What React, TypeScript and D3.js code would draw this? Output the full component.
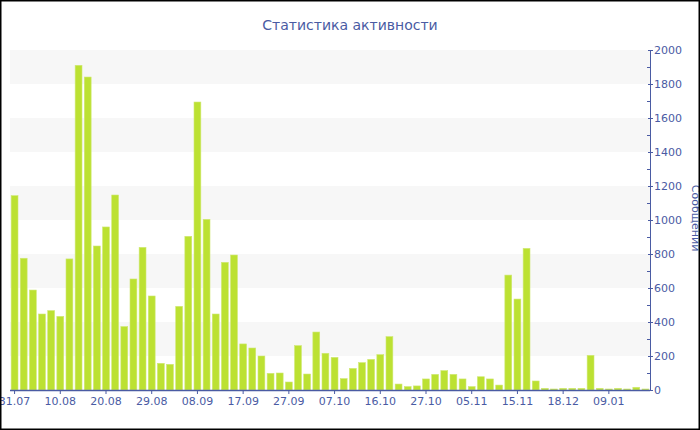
import React from "react";
import * as d3 from "d3";

const dates: string[] = [
  "31.07", "02.08", "04.08", "06.08", "08.08",
  "10.08", "12.08", "14.08", "16.08", "18.08",
  "20.08", "22.08", "24.08", "26.08", "27.08",
  "29.08", "31.08", "02.09", "04.09", "06.09",
  "08.09", "10.09", "12.09", "14.09", "15.09",
  "17.09", "19.09", "21.09", "23.09", "25.09",
  "27.09", "29.09", "01.10", "03.10", "05.10",
  "07.10", "09.10", "11.10", "13.10", "14.10",
  "16.10", "18.10", "20.10", "23.10", "25.10",
  "27.10", "29.10", "31.10", "02.11", "03.11",
  "05.11", "07.11", "09.11", "11.11", "13.11",
  "15.11", "17.11", "22.11", "29.11", "06.12",
  "18.12", "21.12", "25.12", "29.12", "03.01",
  "09.01", "13.01", "17.01", "21.01", "25.01",
];

const messages: number[] = [
  1143, 775, 588, 447, 467, 433, 771, 1910, 1841, 847,
  959, 1147, 373, 653, 839, 553, 157, 151, 492, 904,
  1694, 1004, 447, 751, 794, 271, 247, 200, 98, 100,
  47, 261, 94, 341, 216, 192, 67, 127, 161, 180,
  208, 314, 35, 20, 24, 65, 92, 114, 92, 65,
  20, 78, 65, 29, 676, 535, 833, 53, 10, 6,
  10, 10, 10, 204, 10, 6, 10, 6, 16, 6,
];

const yMajorTicks: number[] = [0, 200, 400, 600, 800, 1000, 1200, 1400, 1600, 1800, 2000];
const yMinorTicks: number[] = [100, 300, 500, 700, 900, 1100, 1300, 1500, 1700, 1900];
const bandStarts: number[] = [200, 600, 1000, 1400, 1800];

const title = "Статистика активности";
const yTitle = "Сообщений";

const W = 700;
const H = 430;
const left = 10;
const right = 650;
const top = 50;
const bottom = 390;
const axisColor = "#4a5ba3";
const font = "DejaVu Sans, Verdana, sans-serif";

export default function App() {
  const x = d3.scaleBand<string>().domain(dates).range([left, right]).paddingInner(0.25).paddingOuter(0.125);
  const y = d3.scaleLinear().domain([0, 2000]).range([bottom, top]);
  const xTickIdx = dates.map((_, i) => i).filter((i) => i % 5 === 0);

  return (
    <svg width={W} height={H} style={{ position: "absolute", left: 0, top: 0, background: "#fff" }}>
      <rect x={0} y={0} width={W} height={H} fill="#fff" />
      {bandStarts.map((b) => (
        <rect key={b} x={left} y={y(b + 200)} width={right - left} height={y(b) - y(b + 200)} fill="#f7f7f7" />
      ))}
      {messages.map((v, i) => (
        <rect
          key={i}
          x={x(dates[i])!}
          y={y(v)}
          width={x.bandwidth()}
          height={bottom - y(v)}
          fill="#bce132"
          stroke="#cfe873"
          strokeWidth={0.6}
        />
      ))}
      <line x1={left} x2={right} y1={bottom + 0.5} y2={bottom + 0.5} stroke={axisColor} strokeWidth={1.5} />
      {xTickIdx.map((i) => {
        const cx = x(dates[i])! + x.bandwidth() / 2;
        return (
          <g key={i}>
            <line x1={cx} x2={cx} y1={bottom} y2={bottom + 4} stroke={axisColor} strokeWidth={1} />
            <text x={cx} y={405} textAnchor="middle" fontSize={11} fontFamily={font} fill={axisColor}>
              {dates[i]}
            </text>
          </g>
        );
      })}
      <line x1={right + 0.5} x2={right + 0.5} y1={top} y2={bottom + 1} stroke={axisColor} strokeWidth={1} />
      {yMinorTicks.map((t) => (
        <line key={t} x1={right - 3} x2={right} y1={y(t) + 0.5} y2={y(t) + 0.5} stroke={axisColor} strokeWidth={1} />
      ))}
      {yMajorTicks.map((t) => (
        <g key={t}>
          <line x1={right - 2} x2={right + 3} y1={y(t) + 0.5} y2={y(t) + 0.5} stroke={axisColor} strokeWidth={1} />
          <text x={right + 4} y={y(t) + 4} fontSize={11} fontFamily={font} fill={axisColor}>
            {t}
          </text>
        </g>
      ))}
      <text
        transform={`translate(692,218) rotate(90)`}
        textAnchor="middle"
        fontSize={11}
        fontFamily={font}
        fill={axisColor}
      >
        {yTitle}
      </text>
      <text x={350} y={30} textAnchor="middle" fontSize={14} fontFamily={font} fill={axisColor}>
        {title}
      </text>
      <rect x={0.75} y={0.75} width={W - 1.5} height={H - 1.5} fill="none" stroke="#000" strokeWidth={1.5} />
    </svg>
  );
}
